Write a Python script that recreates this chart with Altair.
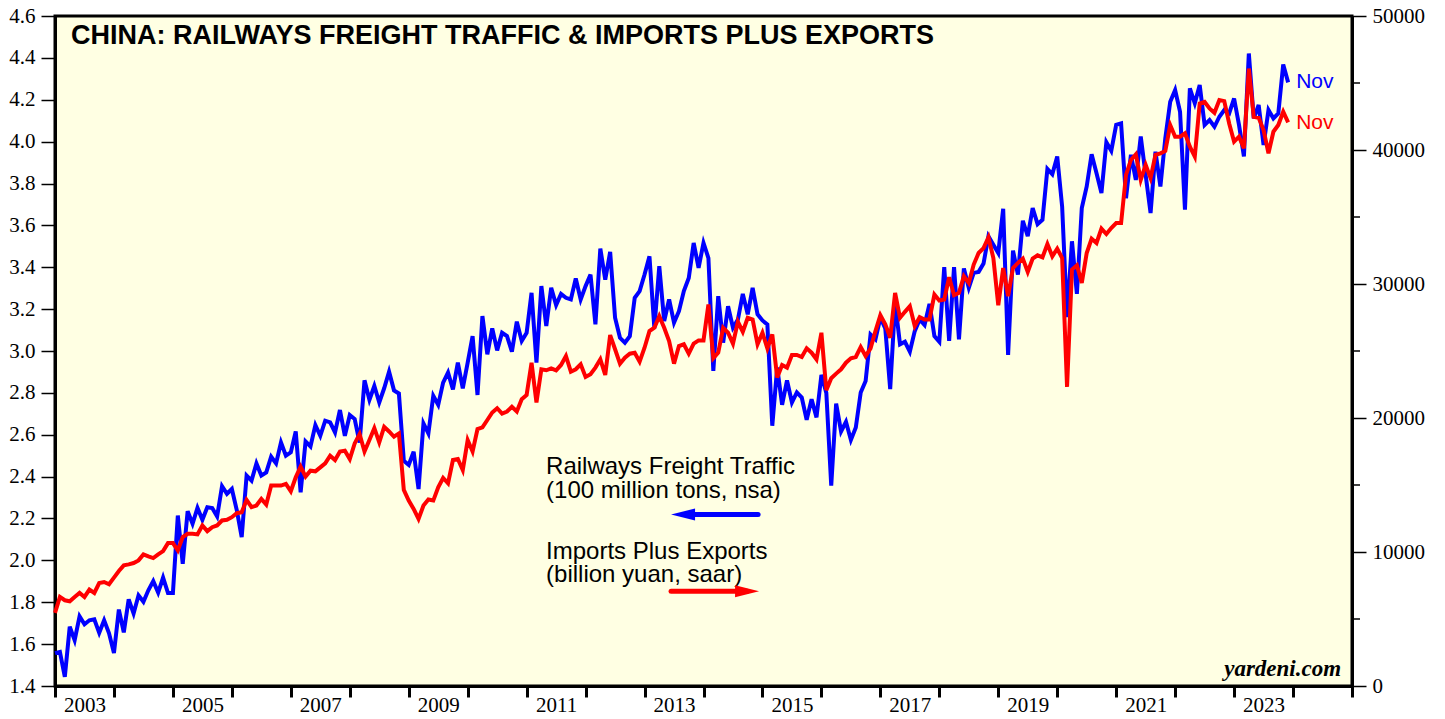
import altair as alt
import numpy as np
import pandas as pd

# Railways freight traffic (100 million tons, nsa) - left axis, monthly Dec 2002 .. Nov 2023
rail = [
    1.557, 1.563, 1.444, 1.683, 1.619, 1.733, 1.695, 1.714, 1.719, 1.654, 1.714, 1.652,
    1.557, 1.765, 1.656, 1.814, 1.746, 1.833, 1.802, 1.857, 1.901, 1.846, 1.918, 1.844,
    1.844, 2.214, 1.984, 2.235, 2.175, 2.251, 2.194, 2.254, 2.250, 2.210, 2.354, 2.318,
    2.341, 2.240, 2.111, 2.405, 2.381, 2.463, 2.405, 2.420, 2.495, 2.463, 2.563, 2.500,
    2.516, 2.616, 2.325, 2.568, 2.544, 2.646, 2.595, 2.667, 2.659, 2.611, 2.718, 2.595,
    2.694, 2.675, 2.563, 2.860, 2.767, 2.833, 2.754, 2.822, 2.901, 2.812, 2.797, 2.476,
    2.456, 2.519, 2.341, 2.654, 2.606, 2.786, 2.743, 2.849, 2.897, 2.817, 2.944, 2.822,
    2.944, 3.071, 2.790, 3.167, 2.984, 3.108, 3.003, 3.087, 3.071, 2.997, 3.140, 3.048,
    3.087, 3.278, 2.944, 3.310, 3.119, 3.302, 3.219, 3.273, 3.254, 3.246, 3.346, 3.246,
    3.310, 3.365, 3.127, 3.489, 3.341, 3.473, 3.159, 3.063, 3.040, 3.071, 3.254, 3.286,
    3.365, 3.452, 3.108, 3.405, 3.143, 3.246, 3.135, 3.190, 3.286, 3.349, 3.516, 3.397,
    3.516, 3.444, 2.905, 3.262, 3.040, 3.214, 3.111, 3.150, 3.273, 3.175, 3.302, 3.175,
    3.146, 3.127, 2.643, 2.921, 2.743, 2.860, 2.754, 2.802, 2.778, 2.671, 2.770, 2.683,
    2.886, 2.800, 2.357, 2.749, 2.616, 2.662, 2.575, 2.635, 2.802, 2.857, 3.079, 3.056,
    3.159, 3.108, 2.818, 3.230, 3.032, 3.044, 2.997, 3.095, 3.151, 3.124, 3.225, 3.071,
    3.044, 3.401, 3.048, 3.401, 3.056, 3.394, 3.302, 3.373, 3.378, 3.418, 3.548, 3.508,
    3.468, 3.679, 2.981, 3.479, 3.365, 3.622, 3.548, 3.683, 3.606, 3.627, 3.870, 3.844,
    3.929, 3.690, 3.162, 3.524, 3.273, 3.683, 3.786, 3.940, 3.849, 3.754, 3.997, 3.956,
    4.080, 4.087, 3.730, 3.937, 3.817, 4.024, 3.841, 3.659, 3.952, 3.786, 4.016, 4.190,
    4.246, 4.143, 3.675, 4.254, 4.183, 4.270, 4.080, 4.103, 4.071, 4.119, 4.151, 4.135,
    4.206, 4.080, 3.929, 4.421, 4.111, 4.175, 3.984, 4.151, 4.111, 4.135, 4.368, 4.283,
]

# Imports plus exports (billion yuan, saar) - right axis, same months
trade = [
    5453, 6646, 6398, 6324, 6646, 6944, 6646, 7191, 6944, 7687, 7762, 7589,
    8084, 8580, 9002, 9077, 9176, 9374, 9821, 9672, 9548, 9821, 10069, 10664,
    10664, 10118, 11110, 11358, 11358, 11309, 11978, 11556, 11854, 11978, 12350, 12400,
    12598, 12896, 12970, 13888, 13342, 13466, 13962, 13541, 14954, 14954, 14954, 15078,
    14533, 15574, 16368, 15624, 16070, 16021, 16318, 16616, 17186, 16863, 17500, 17558,
    16938, 18104, 18802, 17500, 18352, 19245, 18179, 19344, 18995, 18600, 18847, 14635,
    13838, 13218, 12474, 13466, 13913, 13838, 14830, 15524, 15128, 16863, 16938, 16120,
    18352, 17500, 19171, 19295, 19850, 20409, 20732, 20335, 20483, 20832, 20483, 21400,
    21725, 24128, 21155, 23636, 23561, 23710, 23561, 23957, 24626, 23457, 23636, 24008,
    23064, 23263, 23760, 24380, 23213, 26189, 25129, 24056, 24500, 24800, 24874, 24203,
    25245, 26486, 26734, 27602, 26734, 25742, 24056, 25370, 25500, 24800, 25544, 25792,
    25792, 28473, 24456, 24874, 26734, 26362, 25544, 27180, 26436, 27478, 27354, 25500,
    26362, 25197, 26238, 23015, 23957, 23760, 24700, 24700, 24552, 25197, 24874, 24380,
    26362, 22075, 22968, 23313, 23636, 24128, 24456, 24552, 25296, 24626, 25197, 26486,
    27677, 26986, 25990, 29336, 27478, 27924, 28346, 26858, 27528, 27354, 27354, 29212,
    28770, 28843, 30504, 29165, 29336, 30578, 30082, 31449, 32313, 32683, 33480, 31940,
    28420, 31195, 29090, 31195, 31570, 31892, 30900, 31892, 32140, 31992, 32981, 32066,
    32634, 31940, 22320, 31077, 31397, 30082, 32313, 33381, 33058, 34127, 33727, 34176,
    34544, 34544, 38146, 39262, 39680, 37774, 38890, 37898, 39634, 39755, 39929, 41864,
    40994, 40994, 41240, 40250, 39506, 43472, 43598, 43100, 42780, 43725, 43650, 41984,
    40622, 40994, 40125, 46077, 42482, 42408, 41493, 39755, 41366, 41864, 42854, 42059,
]

left_ticks = [1.4, 1.6, 1.8, 2.0, 2.2, 2.4, 2.6, 2.8, 3.0, 3.2, 3.4, 3.6, 3.8, 4.0, 4.2, 4.4, 4.6]
right_ticks = [0, 10000, 20000, 30000, 40000, 50000]
right_minor = [5000, 15000, 25000, 35000, 45000]
year_ticks = list(range(2003, 2026))

title_text = "CHINA: RAILWAYS FREIGHT TRAFFIC & IMPORTS PLUS EXPORTS"
legend_lines = ["Railways Freight Traffic", "(100 million tons, nsa)",
                "Imports Plus Exports", "(billion yuan, saar)"]

BLUE = "#0000FF"
RED = "#FF0000"
BG = "#FFFFE3"
W, H = 1297, 670

n = len(rail)
months = pd.date_range("2002-12-01", periods=n, freq="MS")
df = pd.DataFrame({
    "t": 2003 + np.arange(n) / 12.0,  # plotted at month end
    "month": months.strftime("%b %Y"),
    "rail": rail,
    "trade": trade,
})
last = df.tail(1).assign(label="Nov")

xscale = alt.Scale(domain=[2003, 2025], nice=False, zero=False)
xaxis = alt.Axis(values=year_ticks, format="d",
                 labelExpr="(datum.value % 2 == 1 && datum.value < 2024) ? datum.label : ''",
                 labelOffset=29.5, labelFlush=False, labelOverlap=False,
                 tickSize=11, tickWidth=3, domainWidth=3, labelPadding=-3,
                 grid=False, title=None)
X = alt.X("t:Q", scale=xscale, axis=xaxis)

yl_scale = alt.Scale(domain=[1.4, 4.6], nice=False, zero=False)
yl_axis = alt.Axis(values=left_ticks, format=".1f", tickSize=14, tickWidth=1.5,
                   labelPadding=6, domainWidth=3, grid=False, title=None,
                   labelOverlap=False, labelFlush=False)

yr_scale = alt.Scale(domain=[0, 50000], nice=False, zero=True)
yr_axis = alt.Axis(values=right_ticks, format="d", orient="right", tickSize=14,
                   tickWidth=1.5, labelPadding=6, domainWidth=3, grid=False,
                   title=None, labelOverlap=False, labelFlush=False)

YL = lambda f: alt.Y(f, scale=yl_scale, axis=yl_axis)
YR = lambda f: alt.Y(f, scale=yr_scale, axis=yr_axis)

# ---- left-scale group ----
blue_line = alt.Chart(df).mark_line(color=BLUE, strokeWidth=4).encode(
    x=X, y=YL("rail:Q"), tooltip=["month", "rail"])

blue_nov = alt.Chart(last).mark_text(
    align="left", baseline="middle", dx=8, color=BLUE, font="Liberation Sans",
    fontSize=21).encode(x=X, y=YL("rail:Q"), text="label:N")

ann = pd.DataFrame({
    "t": [2003.27, 2011.33, 2011.33, 2011.33, 2011.33],
    "v": [4.465, 2.413, 2.299, 2.008, 1.897],
    "txt": [title_text] + legend_lines,
    "kind": ["title", "leg", "leg", "leg", "leg"],
})
title_mark = alt.Chart(ann[ann.kind == "title"]).mark_text(
    align="left", baseline="alphabetic", fontWeight="bold", font="Liberation Sans",
    fontSize=27, color="black").encode(x=X, y=YL("v:Q"), text="txt:N")
legend_mark = alt.Chart(ann[ann.kind == "leg"]).mark_text(
    align="left", baseline="alphabetic", font="Liberation Sans",
    fontSize=24, color="black").encode(x=X, y=YL("v:Q"), text="txt:N")

credit = alt.Chart(pd.DataFrame({"t": [2024.815], "v": [1.448], "txt": ["yardeni.com"]})).mark_text(
    align="right", baseline="alphabetic", font="Liberation Serif", fontWeight="bold",
    fontStyle="italic", fontSize=23, color="black").encode(x=X, y=YL("v:Q"), text="txt:N")

arrows = pd.DataFrame({
    "t1": [2013.653, 2013.45], "t2": [2014.926, 2014.739],
    "v": [2.219, 1.852], "s": ["rail", "trade"],
    "head_t": [2013.653, 2014.739],
    "shape": ["M -1 0 L 1 -0.5 L 1 0.5 Z", "M 1 0 L -1 -0.5 L -1 0.5 Z"],
})
col = alt.Color("s:N", scale=alt.Scale(domain=["rail", "trade"], range=[BLUE, RED]), legend=None)
arrow_shaft = alt.Chart(arrows).mark_rule(strokeWidth=5, strokeCap="round").encode(
    x=alt.X("t1:Q", scale=xscale, axis=xaxis), x2="t2:Q", y=YL("v:Q"), color=col)
arrow_head = alt.Chart(arrows).mark_point(filled=True, size=576, opacity=1, strokeWidth=0).encode(
    x=alt.X("head_t:Q", scale=xscale, axis=xaxis), y=YL("v:Q"), color=col,
    shape=alt.Shape("shape:N", scale=None))

left_group = alt.layer(blue_line, blue_nov, title_mark, legend_mark, credit, arrow_shaft, arrow_head)

# ---- right-scale group ----
red_line = alt.Chart(df).mark_line(color=RED, strokeWidth=4).encode(
    x=X, y=YR("trade:Q"), tooltip=["month", "trade"])
red_nov = alt.Chart(last).mark_text(
    align="left", baseline="middle", dx=8, dy=1, color=RED, font="Liberation Sans",
    fontSize=21).encode(x=X, y=YR("trade:Q"), text="label:N")
minor = alt.Chart(pd.DataFrame({"m": right_minor})).mark_rule(
    color="black", strokeWidth=1.5).encode(
    y=YR("m:Q"), x=alt.value(W), x2=alt.value(W + 8))

right_group = alt.layer(red_line, red_nov, minor)

chart = alt.layer(left_group, right_group).resolve_scale(y="independent").properties(
    width=W, height=H,
    autosize=alt.AutoSizeParams(type="none"),
    padding={"left": 47, "top": 8, "right": 85, "bottom": 31},
    background="white",
).configure_view(
    fill=BG, stroke="black", strokeWidth=3
).configure_axis(
    labelFont="Liberation Serif", labelFontSize=21, labelColor="black",
    tickColor="black", domainColor="black",
)

chart.save("out.html", embed_options={"renderer": "svg", "actions": False})
